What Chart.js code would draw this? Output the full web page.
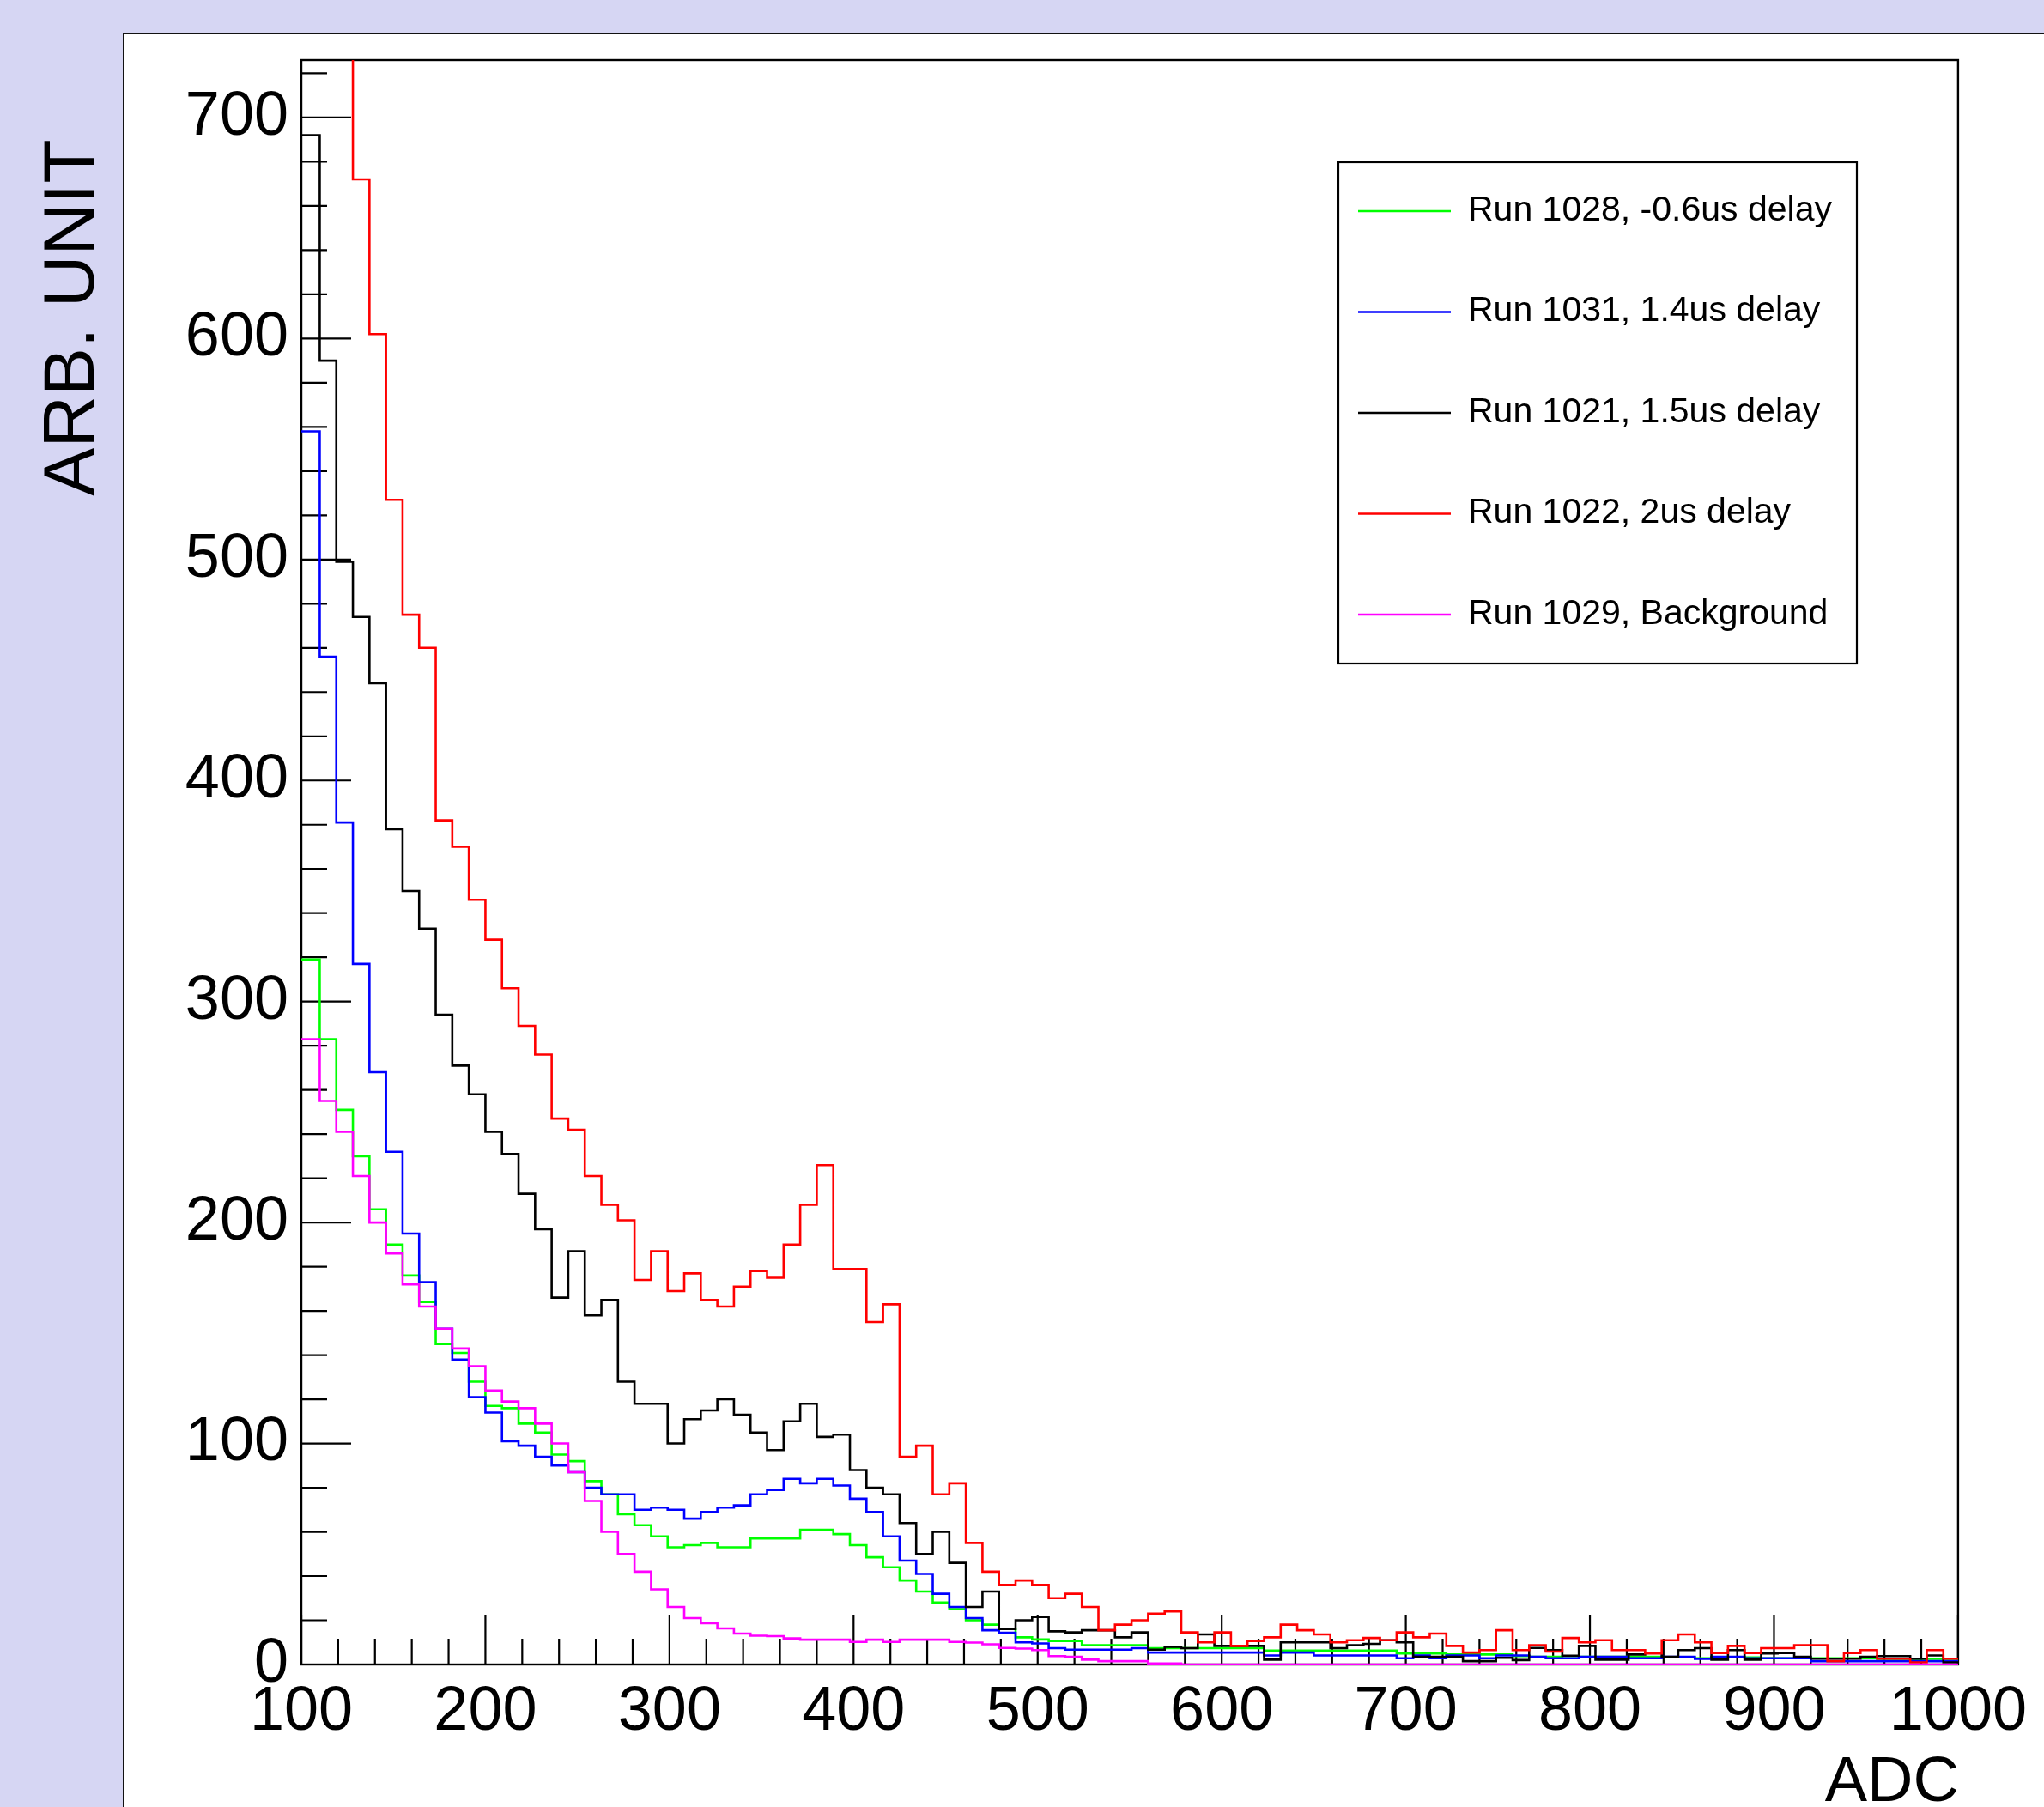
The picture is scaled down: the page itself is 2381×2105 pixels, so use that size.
<!DOCTYPE html>
<html>
<head>
<meta charset="utf-8">
<title>ADC spectra</title>
<script src="https://cdn.jsdelivr.net/npm/chart.js@4.4.1/dist/chart.umd.min.js"></script>
<style>
    html, body { margin: 0; padding: 0; background: #d6d6f3; }
    #wrap { width: 2381px; height: 2105px; }
</style>
</head>
<body>
<div id="wrap"><canvas id="adcChart" width="2381" height="2105"></canvas></div>
<script>
// histogram binning (ADC): bins are 9 wide, the first one [92,101] is cut by the frame at 100
const BIN_START = 92;
const BIN_WIDTH = 9;

// axis ticks
const X_TICKS = [100, 200, 300, 400, 500, 600, 700, 800, 900, 1000];
const Y_TICKS = [0, 100, 200, 300, 400, 500, 600, 700];
const Y_MAX = 726;

// series, one value per bin (counts, arb. unit)
const run1028 = [
    319, 319, 283, 251, 230, 206, 190, 176, 164, 145, 141,
    128, 117, 116, 109, 105, 95, 92, 83, 77, 68,
    63, 58, 53, 54, 55, 53, 53, 57, 57, 57,
    61, 61, 59, 54, 48.5, 44, 38, 33, 28, 25,
    20, 18, 16, 12.3, 11.3, 10.6, 10.6, 8.7, 8.7, 8.7,
    8.7, 7.4, 7.4, 7.4, 7.4, 7.4, 7.4, 7.4, 6.3, 6.3,
    6.3, 6.3, 6.3, 6.3, 6.3, 6.3, 5, 5, 5, 4.5,
    4.5, 4.5, 4.5, 3.8, 3.5, 3.5, 3.8, 3.5, 3.5, 3.5,
    3.5, 3.5, 3.2, 3.2, 2.8, 3.2, 3.2, 3.2, 2.8, 2.8,
    2.8, 2.8, 2.8, 2.8, 2.8, 2.5, 2.5, 2.5, 2.5, 2.5
];
const run1031 = [
    558, 558, 456, 381, 317, 268, 232, 195, 173, 152, 138,
    121, 114, 101, 99, 94, 90, 87, 80, 77, 77,
    70, 71, 70, 66, 69, 71, 72, 77, 79, 84,
    82, 84, 81, 75, 69, 58, 47, 41, 32, 26,
    21, 15.5, 14.4, 10, 9.5, 7.4, 6.7, 6.7, 6.7, 6.7,
    7.4, 5.4, 5.4, 5.4, 5.4, 5.4, 5.4, 5.4, 4.1, 5.4,
    5.4, 4.1, 4.1, 4.1, 4.1, 4.1, 2.8, 4.1, 2.8, 4.1,
    4.1, 2.8, 4.1, 4.1, 3.5, 2.8, 2.8, 3.5, 3.5, 3.5,
    2.8, 2.8, 3.5, 3.5, 2.5, 3.5, 3.5, 2.8, 2.8, 2.8,
    2.8, 1.5, 1.5, 1.5, 1.5, 1.5, 1.5, 1.5, 1.5, 1.5
];
const run1021 = [
    692, 692, 590, 499, 474, 444, 378, 350, 333, 294, 271,
    258, 241, 231, 213, 197, 166, 187, 158, 165, 128,
    118, 118, 100, 111, 115, 120, 113, 105, 97, 110,
    118, 103, 104, 88, 80, 77, 64, 50, 60, 46,
    26, 33, 16, 20, 21.5, 15, 14.5, 15.5, 15.5, 12.3,
    14.5, 6.7, 8, 7.4, 13.6, 8.4, 8.4, 8.4, 2.2, 10,
    10, 10, 7.4, 8.7, 9.3, 11, 10, 3.5, 3.5, 3.5,
    1.5, 1.5, 3, 2, 7.5, 6.5, 4, 8.4, 2.2, 2.2,
    4.5, 5.2, 3.5, 6.5, 7.4, 2.2, 6.5, 2.2, 5, 5.2,
    3.5, 2.6, 2.6, 2.6, 3.5, 3.8, 3.8, 2.6, 4.1, 1
];
const run1022 = [
    1000, 950, 880, 780, 672, 602, 527, 475, 460, 382, 370,
    346, 328, 306, 289, 276, 247, 242, 221, 208, 201,
    174, 187, 169, 177, 165, 162, 171, 178, 175, 190,
    208, 226, 179, 179, 155, 163, 94, 99, 77, 82,
    55, 42, 36, 38, 36, 30, 32, 26, 15.5, 18,
    20, 23, 24, 14.5, 10, 14.5, 8.4, 10.6, 12.3, 18,
    15.5, 13.6, 10, 11, 12, 11, 14.5, 12.3, 14, 8.4,
    5.4, 6.5, 15.5, 6.5, 8.7, 5.8, 12, 10, 11, 6.5,
    6.5, 5, 11, 13.6, 10, 5.2, 8.4, 5.2, 7.4, 7.4,
    8.7, 8.7, 1.5, 5.2, 6.5, 2.6, 2.6, 1, 6.5, 2.6
];
const run1029 = [
    283, 283, 255, 241, 221, 200, 186, 172, 162, 152, 143,
    135, 124, 119, 116, 109, 100, 87, 74, 60, 50,
    42, 34, 26, 21, 18.7, 16.3, 14, 13, 12.8, 11.8,
    11.2, 11.2, 11.2, 10.2, 11.2, 10.2, 11.2, 11.2, 11.2, 10.2,
    9.9, 9.1, 7.5, 7.2, 6.5, 3.8, 3.5, 2.2, 1.5, 1.5,
    1.5, 0.5, 0.5, 0, 0, 0, 0, 0, 0, 0,
    0, 0, 0, 0, 0, 0, 0, 0, 0, 0,
    0, 0, 0, 0, 0, 0, 0, 0, 0, 0,
    0, 0, 0, 0, 0, 0, 0, 0, 0, 0,
    0, 0, 0, 0, 0, 0, 0, 0, 0, 0
];

// ROOT-like colours
const COLORS = {
    green: 'rgb(0, 255, 0)',
    blue: 'rgb(0, 0, 255)',
    black: 'rgb(0, 0, 0)',
    red: 'rgb(255, 0, 0)',
    magenta: 'rgb(255, 0, 255)',
    pad: '#d6d6f3'
};

const FONT = "'Liberation Sans', Arial, Helvetica, sans-serif";

// fixed layout of the canvas (pixels)
const LAYOUT = {
    panelLeft: 143, panelTop: 38,
    areaLeft: 351, areaTop: 70, areaRight: 2282, areaBottom: 1939,
    majorTick: 58, minorTick: 30,
    legend: { left: 1559, top: 189, right: 2163, bottom: 773, firstY: 246, stepY: 117.5,
              lineFrom: 1582, lineTo: 1690, textX: 1710, font: 41 }
};

// histogram outline: one point per lower bin edge, plus the last upper edge
function toSteps(values) {
    const pts = values.map((v, i) => ({ x: BIN_START + i * BIN_WIDTH, y: v }));
    pts.push({ x: BIN_START + values.length * BIN_WIDTH, y: values[values.length - 1] });
    return pts;
}

function histDataset(label, values, color, order) {
    return {
        label: label,
        data: toSteps(values),
        borderColor: color,
        backgroundColor: color,
        borderWidth: 2.6,
        pointRadius: 0,
        // value of a point holds until the next edge
        stepped: 'before',
        fill: false,
        order: order
    };
}

// background pad, frame, inside tick marks, legend box and axis titles
const rootDecor = {
    id: 'rootDecor',
    beforeDraw(chart) {
        const ctx = chart.ctx;
        ctx.save();
        ctx.fillStyle = COLORS.pad;
        ctx.fillRect(0, 0, chart.width, chart.height);
        ctx.fillStyle = '#ffffff';
        ctx.fillRect(LAYOUT.panelLeft, LAYOUT.panelTop, chart.width, chart.height);
        ctx.strokeStyle = '#111';
        ctx.lineWidth = 2;
        ctx.beginPath();
        ctx.moveTo(LAYOUT.panelLeft + 1, chart.height);
        ctx.lineTo(LAYOUT.panelLeft + 1, LAYOUT.panelTop + 1);
        ctx.lineTo(chart.width, LAYOUT.panelTop + 1);
        ctx.stroke();
        ctx.restore();
    },
    beforeDatasetsDraw(chart) {
        const ctx = chart.ctx;
        const area = chart.chartArea;
        const xs = chart.scales.x;
        const ys = chart.scales.y;
        ctx.save();
        ctx.strokeStyle = '#000';
        ctx.lineWidth = 2.4;
        ctx.strokeRect(area.left, area.top, area.right - area.left, area.bottom - area.top);

        ctx.lineWidth = 2.2;
        ctx.beginPath();
        // y axis ticks, every 20, long ones every 100
        for (let v = 0; v <= Y_MAX; v += 20) {
            const py = ys.getPixelForValue(v);
            const len = Y_TICKS.includes(v) ? LAYOUT.majorTick : LAYOUT.minorTick;
            ctx.moveTo(area.left, py);
            ctx.lineTo(area.left + len, py);
        }
        // x axis ticks
        for (let v = 100; v <= 1000; v += 20) {
            const px = xs.getPixelForValue(v);
            const len = X_TICKS.includes(v) ? LAYOUT.majorTick : LAYOUT.minorTick;
            ctx.moveTo(px, area.bottom);
            ctx.lineTo(px, area.bottom - len);
        }
        ctx.stroke();
        ctx.restore();
    },
    afterDraw(chart) {
        const ctx = chart.ctx;
        const lg = LAYOUT.legend;
        ctx.save();

        // legend
        ctx.fillStyle = '#fff';
        ctx.fillRect(lg.left, lg.top, lg.right - lg.left, lg.bottom - lg.top);
        ctx.strokeStyle = '#000';
        ctx.lineWidth = 2.2;
        ctx.strokeRect(lg.left, lg.top, lg.right - lg.left, lg.bottom - lg.top);
        ctx.font = lg.font + 'px ' + FONT;
        ctx.textAlign = 'left';
        ctx.textBaseline = 'alphabetic';
        chart.data.datasets.forEach((ds, i) => {
            const y = lg.firstY + i * lg.stepY;
            ctx.strokeStyle = ds.borderColor;
            ctx.lineWidth = 2.4;
            ctx.beginPath();
            ctx.moveTo(lg.lineFrom, y);
            ctx.lineTo(lg.lineTo, y);
            ctx.stroke();
            ctx.fillStyle = '#000';
            ctx.fillText(ds.label, lg.textX, y + 10.5);
        });

        // axis titles
        ctx.fillStyle = '#000';
        ctx.font = '84px ' + FONT;
        ctx.save();
        ctx.translate(86, 370);
        ctx.rotate(-Math.PI / 2);
        ctx.textAlign = 'center';
        ctx.textBaseline = 'middle';
        ctx.fillText('ARB. UNIT', 0, 0);
        ctx.restore();

        ctx.font = '74px ' + FONT;
        ctx.textAlign = 'right';
        ctx.textBaseline = 'alphabetic';
        ctx.fillText('ADC', LAYOUT.areaRight, 2098);
        ctx.restore();
    }
};

function renderAdcChart() {
    const ctx = document.getElementById('adcChart');
    if (!ctx) {
        console.error('Canvas element not found: adcChart');
        return null;
    }

    Chart.defaults.font.family = FONT;
    Chart.defaults.color = '#000';

    return new Chart(ctx, {
        type: 'line',
        data: {
            datasets: [
                histDataset('Run 1028, -0.6us delay', run1028, COLORS.green, 5),
                histDataset('Run 1031, 1.4us delay', run1031, COLORS.blue, 4),
                histDataset('Run 1021, 1.5us delay', run1021, COLORS.black, 3),
                histDataset('Run 1022, 2us delay', run1022, COLORS.red, 2),
                histDataset('Run 1029, Background', run1029, COLORS.magenta, 1)
            ]
        },
        options: {
            responsive: false,
            animation: false,
            layout: {
                padding: {
                    left: LAYOUT.panelLeft,
                    top: LAYOUT.areaTop,
                    right: 2381 - LAYOUT.areaRight,
                    bottom: 0
                }
            },
            plugins: {
                legend: { display: false },
                tooltip: { enabled: false },
                title: { display: false }
            },
            scales: {
                x: {
                    type: 'linear',
                    min: 100,
                    max: 1000,
                    grid: { display: false, drawTicks: false },
                    border: { display: false },
                    afterFit: (s) => { s.height = 2105 - LAYOUT.areaBottom; },
                    afterBuildTicks: (s) => { s.ticks = X_TICKS.map(v => ({ value: v })); },
                    ticks: {
                        autoSkip: false,
                        maxRotation: 0,
                        padding: 20,
                        font: { size: 72, lineHeight: 1 },
                        color: '#000',
                        callback: (v) => String(v)
                    }
                },
                y: {
                    type: 'linear',
                    min: 0,
                    max: Y_MAX,
                    grid: { display: false, drawTicks: false },
                    border: { display: false },
                    afterFit: (s) => { s.width = LAYOUT.areaLeft - LAYOUT.panelLeft; },
                    afterBuildTicks: (s) => { s.ticks = Y_TICKS.map(v => ({ value: v })); },
                    ticks: {
                        padding: 15,
                        font: { size: 72, lineHeight: 1 },
                        color: '#000',
                        callback: (v) => String(v)
                    }
                }
            }
        },
        plugins: [rootDecor]
    });
}

document.addEventListener('DOMContentLoaded', function() {
    try {
        renderAdcChart();
    } catch (error) {
        console.error('Chart rendering failed:', error);
    }
});
</script>
</body>
</html>
